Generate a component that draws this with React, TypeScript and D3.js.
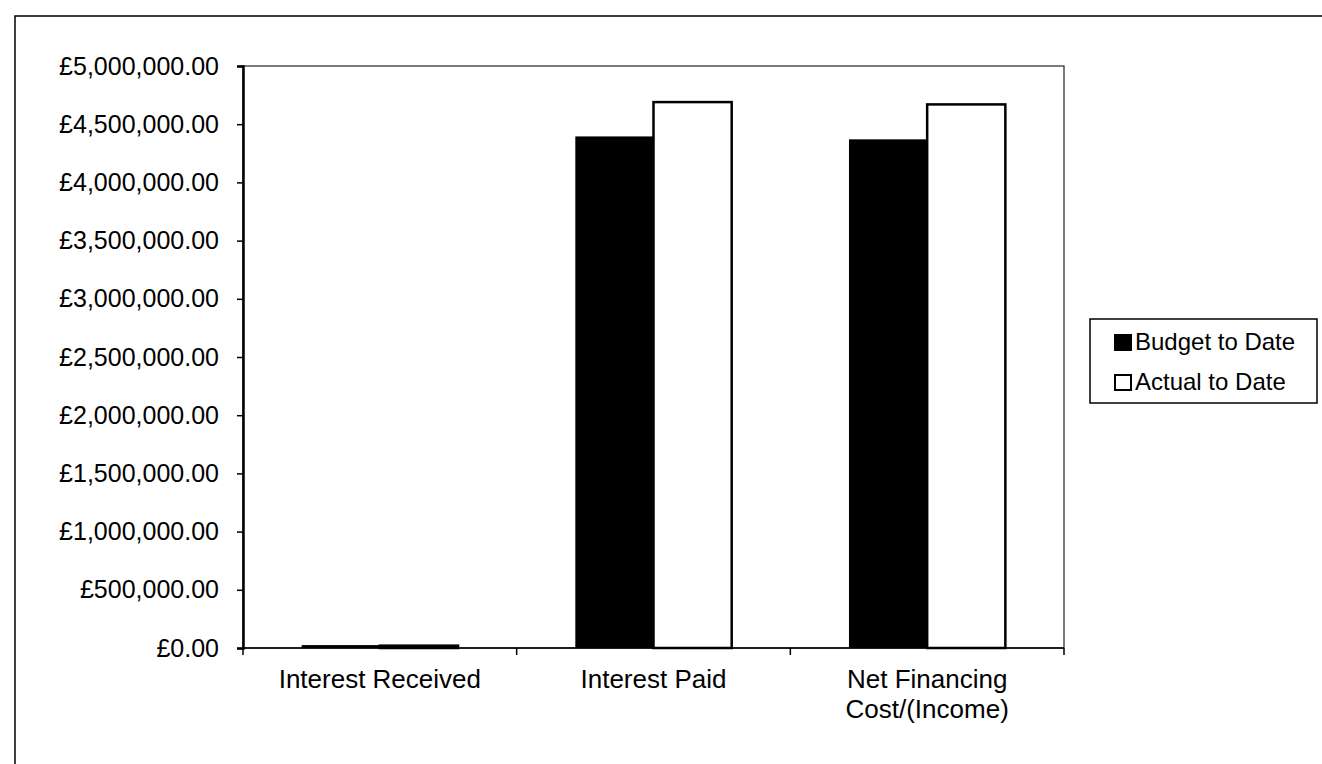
import React, { useEffect, useRef } from 'react';
import * as d3 from 'd3'

const categories = ['Interest Received', 'Interest Paid', 'Net Financing\nCost/(Income)']
const budgetToDate = [25000, 4395000, 4370000]
const actualToDate = [20000, 4690000, 4670000]
const yTicks = [0, 500000, 1000000, 1500000, 2000000, 2500000, 3000000, 3500000, 4000000, 4500000, 5000000]
const seriesNames = ['Budget to Date', 'Actual to Date']

const FONT = '"Liberation Sans", Arial, sans-serif'

const App: React.FC = () => {
  const svgRef = useRef() as React.MutableRefObject<SVGSVGElement>

  useEffect(() => {
    const W = 1322, H = 764
    const plot = { left: 243, right: 1064, top: 66, bottom: 648 }

    d3.select(svgRef.current).html('')
    const svg = d3.select(svgRef.current)
      .attr('width', W)
      .attr('height', H)
      .attr('viewBox', `0 0 ${W} ${H}`)

    svg.append('rect').attr('width', W).attr('height', H).attr('fill', '#fff')

    // outer chart frame (only top and left edges visible in the scan)
    svg.append('path')
      .attr('d', `M15,${H} L15,16 L${W},16`)
      .attr('fill', 'none')
      .attr('stroke', '#000')
      .attr('stroke-width', 1.5)

    const x0 = d3.scaleBand()
      .domain(categories)
      .range([plot.left, plot.right])
      .paddingInner(0)
      .paddingOuter(0)

    // gap width 150% -> each bar = band / (2 + 1.5)
    const barW = x0.bandwidth() / 3.5
    const y = d3.scaleLinear().domain([0, 5000000]).range([plot.bottom, plot.top])

    // plot area border
    svg.append('rect')
      .attr('x', plot.left)
      .attr('y', plot.top)
      .attr('width', plot.right - plot.left)
      .attr('height', plot.bottom - plot.top)
      .attr('fill', 'none')
      .attr('stroke', '#222')
      .attr('stroke-width', 1.2)

    // bars
    const g = svg.append('g')
    categories.forEach((c, i) => {
      const cx = (x0(c) as number) + x0.bandwidth() / 2
      g.append('rect')
        .attr('x', cx - barW)
        .attr('y', y(budgetToDate[i]))
        .attr('width', barW)
        .attr('height', y(0) - y(budgetToDate[i]))
        .attr('fill', '#000')
      g.append('rect')
        .attr('x', cx)
        .attr('y', y(actualToDate[i]))
        .attr('width', barW)
        .attr('height', y(0) - y(actualToDate[i]))
        .attr('fill', '#fff')
        .attr('stroke', '#000')
        .attr('stroke-width', 2.5)
    })

    // y axis
    const yAxis = svg.append('g')
      .attr('transform', `translate(${plot.left},0)`)
      .call(d3.axisLeft(y).tickValues(yTicks).tickSize(6).tickPadding(18)
        .tickFormat(d => '£' + d3.format(',.2f')(d as number)))
    yAxis.select('.domain').attr('stroke', '#000').attr('stroke-width', 2.5)
    yAxis.selectAll('line').attr('stroke', '#000').attr('stroke-width', 1.5)
    yAxis.selectAll('text')
      .attr('font-family', FONT)
      .attr('font-size', 25)
      .attr('fill', '#000')

    // x axis line with ticks at category boundaries
    svg.append('line')
      .attr('x1', plot.left).attr('x2', plot.right)
      .attr('y1', plot.bottom).attr('y2', plot.bottom)
      .attr('stroke', '#000').attr('stroke-width', 1.5)
    const bounds = categories.map(c => x0(c) as number).concat([plot.right])
    svg.append('g').selectAll('line')
      .data(bounds)
      .join('line')
      .attr('x1', d => d).attr('x2', d => d)
      .attr('y1', plot.bottom).attr('y2', plot.bottom + 7)
      .attr('stroke', '#000').attr('stroke-width', 1.5)

    // category labels
    categories.forEach(c => {
      const cx = (x0(c) as number) + x0.bandwidth() / 2
      const t = svg.append('text')
        .attr('x', cx)
        .attr('y', 688)
        .attr('text-anchor', 'middle')
        .attr('font-family', FONT)
        .attr('font-size', 26)
      c.split('\n').forEach((line, k) => {
        t.append('tspan').attr('x', cx).attr('dy', k === 0 ? 0 : 30).text(line)
      })
    })

    // legend
    const lg = svg.append('g')
    lg.append('rect')
      .attr('x', 1090).attr('y', 319).attr('width', 227).attr('height', 84)
      .attr('fill', '#fff').attr('stroke', '#000').attr('stroke-width', 1.5)
    seriesNames.forEach((name, i) => {
      const yy = 350 + i * 40
      lg.append('rect')
        .attr('x', 1115).attr('y', yy - 15).attr('width', 16).attr('height', 15)
        .attr('fill', i === 0 ? '#000' : '#fff')
        .attr('stroke', '#000').attr('stroke-width', 2)
      lg.append('text')
        .attr('x', 1135).attr('y', yy)
        .attr('font-family', FONT)
        .attr('font-size', 24)
        .text(name)
    })
  }, [])

  return <svg ref={svgRef} style={{ position: 'absolute', left: 0, top: 0 }} />
}

export default App
